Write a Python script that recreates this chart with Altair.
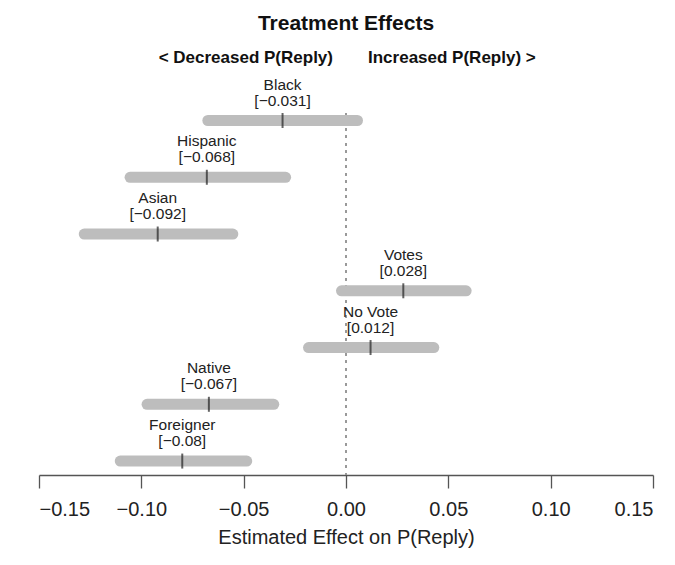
import altair as alt
import pandas as pd

names = ["Black", "Hispanic", "Asian", "Votes", "No Vote", "Native", "Foreigner"]
estimates = [-0.031, -0.068, -0.092, 0.028, 0.012, -0.067, -0.08]
lowers = [-0.0675, -0.1055, -0.1279, -0.0022, -0.0183, -0.0972, -0.1103]
uppers = [0.0056, -0.0295, -0.0553, 0.0587, 0.0429, -0.0353, -0.0485]
tick_values = [-0.15, -0.10, -0.05, 0.0, 0.05, 0.10, 0.15]

df = pd.DataFrame({
    "name": names,
    "est": estimates,
    "lo": lowers,
    "hi": uppers,
})
df["label"] = ["[" + str(v).replace("-", "\u2212") + "]" for v in estimates]

FONT = "Liberation Sans"

xscale = alt.Scale(domain=[-0.15, 0.15], nice=False, zero=False)
yscale = alt.Scale(type="point", padding=0.189, align=0.35)

x_axis = alt.Axis(
    values=tick_values, format=".2f", grid=False,
    title="Estimated Effect on P(Reply)",
    domainColor="#555555", tickColor="#555555", domainWidth=1.3, tickWidth=1.3,
    tickSize=13, labelFontSize=20, titleFontSize=20, labelFont=FONT, titleFont=FONT,
    labelColor="#222222", titleColor="#222222", titleFontWeight="normal",
    labelPadding=11, titlePadding=8,
)

base = alt.Chart(df)

bars = base.mark_rule(strokeWidth=11, strokeCap="round", color="#bdbdbd").encode(
    x=alt.X("lo:Q", scale=xscale, axis=x_axis),
    x2="hi:Q",
    y=alt.Y("name:N", sort=names, scale=yscale, axis=None),
)

zero = alt.Chart(df).mark_rule(color="#999999", strokeWidth=1.5, strokeDash=[2.5, 5]).encode(
    x=alt.datum(0, scale=xscale),
    y=alt.value(0),
    y2=alt.value(362),
)

ticks = base.mark_tick(orient="vertical", size=15, thickness=2, color="#222222").encode(
    x=alt.X("est:Q", scale=xscale),
    y=alt.Y("name:N", sort=names, scale=yscale),
)

name_text = base.mark_text(font=FONT, fontSize=15.5, color="#222222", dy=-31,
                           baseline="alphabetic", align="center").encode(
    x=alt.X("est:Q", scale=xscale),
    y=alt.Y("name:N", sort=names, scale=yscale),
    text="name:N",
)

val_text = base.mark_text(font=FONT, fontSize=15.5, color="#222222", dy=-15,
                          baseline="alphabetic", align="center").encode(
    x=alt.X("est:Q", scale=xscale),
    y=alt.Y("name:N", sort=names, scale=yscale),
    text="label:N",
)

ann = pd.DataFrame({"t": ["Treatment Effects"]})
title = alt.Chart(ann).mark_text(font=FONT, fontSize=21, fontWeight="bold", color="#111111",
                                 baseline="alphabetic", align="center").encode(
    x=alt.datum(0, scale=xscale),
    y=alt.value(-83),
    text="t:N",
)

sub_left = alt.Chart(pd.DataFrame({"t": ["< Decreased P(Reply)"]})).mark_text(
    font=FONT, fontSize=17, fontWeight="bold", color="#111111",
    baseline="alphabetic", align="right", dx=-13).encode(
    x=alt.datum(0, scale=xscale),
    y=alt.value(-50),
    text="t:N",
)

sub_right = alt.Chart(pd.DataFrame({"t": ["Increased P(Reply) >"]})).mark_text(
    font=FONT, fontSize=17, fontWeight="bold", color="#111111",
    baseline="alphabetic", align="left", dx=22).encode(
    x=alt.datum(0, scale=xscale),
    y=alt.value(-50),
    text="t:N",
)

chart = alt.layer(zero, bars, ticks, name_text, val_text, title, sub_left, sub_right).properties(
    width=614, height=362,
    autosize=alt.AutoSizeParams(type="none"),
    padding={"left": 31, "top": 105, "right": 14, "bottom": 80},
    background="white",
).configure_view(stroke=None)

chart.save("out.html", embed_options={"renderer": "svg", "actions": False})
